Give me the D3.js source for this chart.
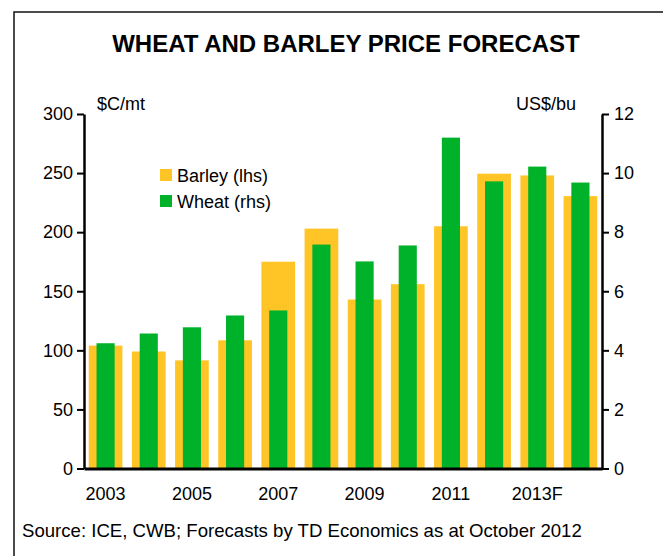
<!DOCTYPE html>
<html>
<head>
<meta charset="utf-8">
<script src="https://cdn.jsdelivr.net/npm/d3@7"></script>
<style>
  html, body { margin: 0; padding: 0; background: #fff; }
  svg { display: block; font-family: "Liberation Sans", Arial, sans-serif; }
</style>
</head>
<body>
<svg id="chart" width="663" height="556"></svg>
<script>
const years = ["2003","2004","2005","2006","2007","2008","2009","2010","2011","2012","2013F","2014F"];
const tickLabels = ["2003","2005","2007","2009","2011","2013F"];
const barley = [104, 99, 91.5, 108.5, 175, 203, 143, 156, 205, 249.5, 248, 230.5];
const wheat = [4.24, 4.57, 4.78, 5.18, 5.35, 7.58, 7.01, 7.55, 11.2, 9.72, 10.22, 9.68];
const leftTicks = [0, 50, 100, 150, 200, 250, 300];
const rightTicks = [0, 2, 4, 6, 8, 10, 12];

(function () {
const svg = d3.select("#chart");
const pLeft = 84, pRight = 602, pTop = 114, pBottom = 468.5;
const fs = 18;

// frame
svg.append("rect").attr("x", 14).attr("y", 12).attr("width", 720).attr("height", 620)
  .attr("fill", "none").attr("stroke", "#111").attr("stroke-width", 1.5);

// title
svg.append("text").attr("x", 346).attr("y", 52).attr("text-anchor", "middle")
  .attr("font-size", 24).attr("font-weight", "bold").attr("fill", "#000")
  .text("WHEAT AND BARLEY PRICE FORECAST");

const x = d3.scaleBand().domain(years).range([pLeft, pRight]).padding(0);
const yL = d3.scaleLinear().domain([0, 300]).range([pBottom, pTop]);
const yR = d3.scaleLinear().domain([0, 12]).range([pBottom, pTop]);
const bw = x.bandwidth();

const barleyW = bw * 0.78, wheatW = bw * 0.42;

svg.append("g").selectAll("rect").data(years).join("rect")
  .attr("x", (d) => x(d) + (bw - barleyW) / 2)
  .attr("width", barleyW)
  .attr("y", (d, i) => yL(barley[i]))
  .attr("height", (d, i) => pBottom - yL(barley[i]))
  .attr("fill", "#FFC425");

svg.append("g").selectAll("rect").data(years).join("rect")
  .attr("x", (d) => x(d) + (bw - wheatW) / 2)
  .attr("width", wheatW)
  .attr("y", (d, i) => yR(wheat[i]))
  .attr("height", (d, i) => pBottom - yR(wheat[i]))
  .attr("fill", "#00B22A");

// left axis
const gL = svg.append("g").attr("transform", `translate(${pLeft},0)`)
  .call(d3.axisLeft(yL).tickValues(leftTicks).tickSize(7).tickPadding(4).tickSizeOuter(0));
// right axis
const gR = svg.append("g").attr("transform", `translate(${pRight},0)`)
  .call(d3.axisRight(yR).tickValues(rightTicks).tickSize(7).tickPadding(5).tickSizeOuter(0));
[gL, gR].forEach(g => {
  g.select(".domain").attr("stroke", "#000").attr("stroke-width", 2.5);
  g.selectAll(".tick line").attr("stroke", "#000").attr("stroke-width", 2);
  g.selectAll(".tick text").attr("font-size", fs).attr("fill", "#000")
    .attr("font-family", "Liberation Sans, Arial, sans-serif");
});

// bottom axis
const gB = svg.append("g").attr("transform", `translate(0,${pBottom})`)
  .call(d3.axisBottom(x).tickValues(tickLabels).tickSize(0).tickPadding(19).tickSizeOuter(0));
gB.select(".domain").attr("stroke", "#000").attr("stroke-width", 3);
gB.selectAll(".tick text").attr("font-size", fs).attr("fill", "#000")
  .attr("font-family", "Liberation Sans, Arial, sans-serif");

// unit labels
svg.append("text").attr("x", 97).attr("y", 110).attr("font-size", fs).text("$C/mt");
svg.append("text").attr("x", 576).attr("y", 110).attr("text-anchor", "end").attr("font-size", fs).text("US$/bu");

// legend
const legend = [
  { name: "Barley (lhs)", color: "#FFC425" },
  { name: "Wheat (rhs)", color: "#00B22A" }
];
const lg = svg.append("g").selectAll("g").data(legend).join("g")
  .attr("transform", (d, i) => `translate(160,${169 + i * 26})`);
lg.append("rect").attr("width", 12).attr("height", 12).attr("fill", d => d.color);
lg.append("text").attr("x", 17).attr("y", 12.5).attr("font-size", fs).text(d => d.name);

// source
svg.append("text").attr("x", 22).attr("y", 537).attr("font-size", 18.6)
  .text("Source: ICE, CWB; Forecasts by TD Economics as at October 2012");
})();
</script>
</body>
</html>
